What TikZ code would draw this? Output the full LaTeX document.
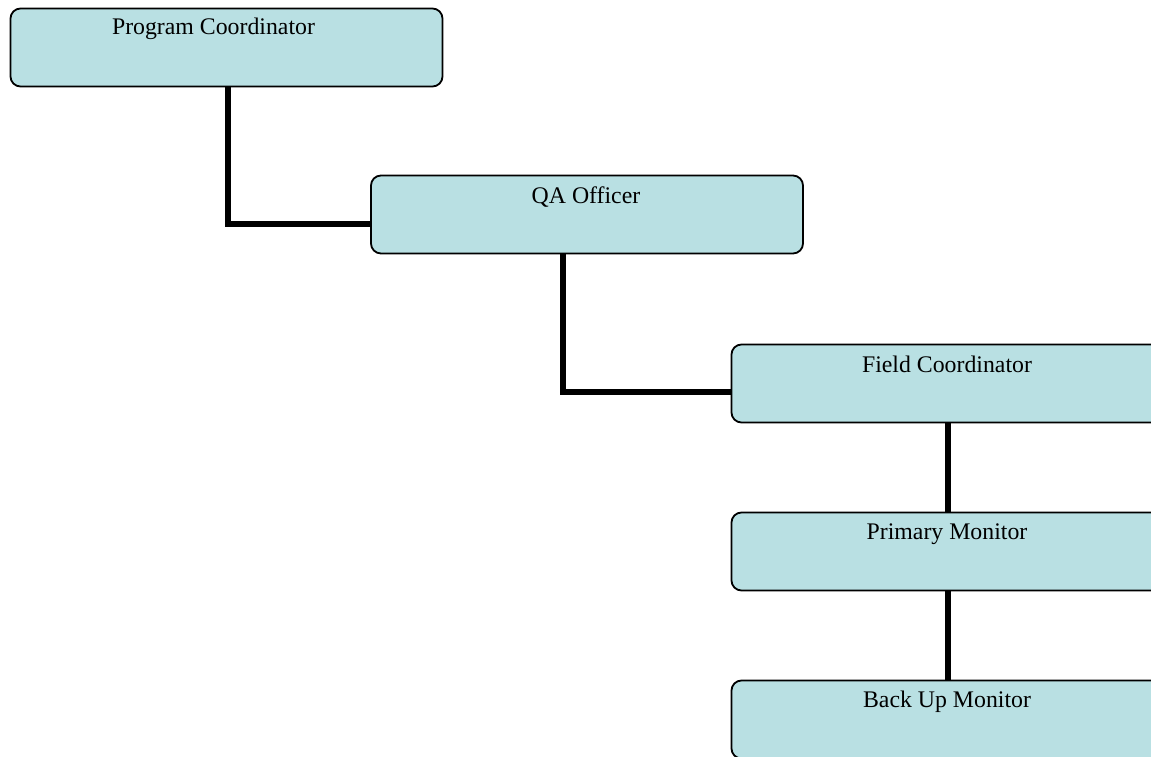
\documentclass[tikz,border=0pt]{standalone}
\usepackage{fontspec}
\setmainfont{Liberation Serif}
\usetikzlibrary{backgrounds}
\definecolor{boxfill}{HTML}{B9E0E3}
\begin{document}
\begin{tikzpicture}[x=1pt,y=-1pt,
  orgbox/.style={draw=black, line width=1.8pt, fill=boxfill, rounded corners=10pt,
    minimum width=432pt, minimum height=78pt, inner sep=0pt, outer sep=0pt},
  lbl/.style={anchor=base, inner sep=0pt, font=\fontsize{23.8}{28}\selectfont},
  link/.style={line width=6pt, line cap=rect}]
\useasboundingbox (0,0) rectangle (1151,757);
\clip (0,0) rectangle (1151,757);
\node[orgbox] (pc) at (226.5,47.5) {};
\node[orgbox] (qa) at (587,214.5) {};
\node[orgbox] (fc) at (947.5,383.5) {};
\node[orgbox] (pm) at (947.5,551.5) {};
\node[orgbox] (bm) at (947.5,719.5) {};
\coordinate (c1) at (228,223.5);
\coordinate (c2) at (563,392);
\begin{pgfonlayer}{background}
\draw[link] (pc.south -| c1) -- (c1) -- (qa.west |- c1);
\draw[link] (qa.south -| c2) -- (c2) -- (fc.west |- c2);
\draw[link] (fc.south) -- (pm.north);
\draw[link] (pm.south) -- (bm.north);
\end{pgfonlayer}
\node[lbl] (pct) at (213.5,35) {Program Coordinator};
\node[lbl] (qat) at (586,203) {QA Officer};
\node[lbl] (fct) at (947,372) {Field Coordinator};
\node[lbl] (pmt) at (947,539) {Primary Monitor};
\node[lbl] (bmt) at (947,707) {Back Up Monitor};
\end{tikzpicture}
\end{document}
